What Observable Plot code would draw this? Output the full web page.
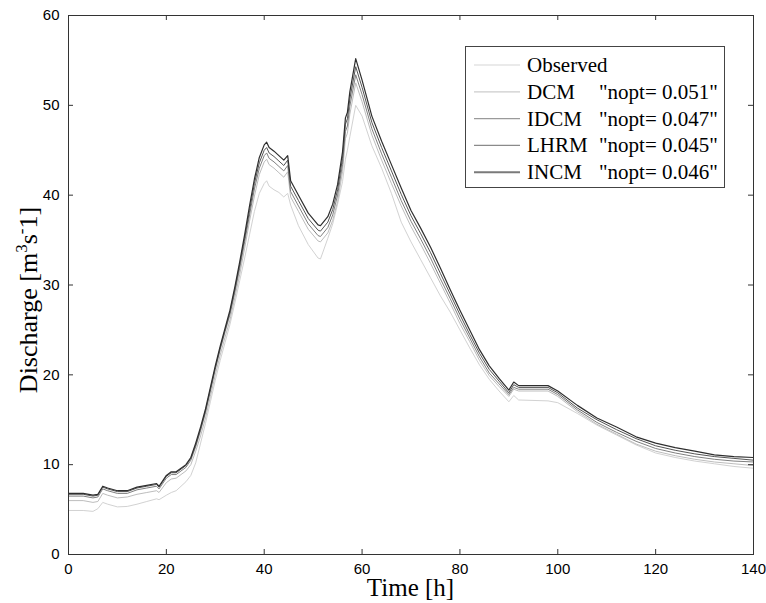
<!DOCTYPE html>
<html><head><meta charset="utf-8">
<script src="https://cdn.jsdelivr.net/npm/d3@7"></script>
<script src="https://cdn.jsdelivr.net/npm/@observablehq/plot@0.6"></script>
<style>
body{margin:0;background:#fff}
#chart{position:relative;width:766px;height:603px}
</style>
</head><body><div id="chart"></div>
<script>
const time = [0,3,5,6,7,8,10,12,14,16,18,18.5,20,21,22,23,24,25,26,27,28,29,30,31,32,33,34,35,36,37,38,39,40,40.5,41,42,43,44,44.8,45.4,47,49,51,51.5,53,54,55,56,56.6,57,57.5,58.7,60,62,64,66,68,70,72,74,76,78,80,82,84,86,88,90,91,92,98,100,104,108,112,116,120,124,128,132,136,140];

const observed = [4.9,4.9,4.8,5.1,5.8,5.6,5.3,5.35,5.6,5.9,
 6.2,6.1,6.6,6.9,7.1,7.6,8.1,8.8,10.2,12.4,
 14.6,17.0,19.4,21.6,23.6,25.6,28.0,30.5,33.0,35.6,
 38.2,40.2,41.3,41.6,41.0,40.6,40.3,39.8,40.2,38.9,
 36.6,34.5,33.0,32.9,35.2,36.8,39.0,41.5,44.0,45.0,
 46.5,50.0,48.8,45.5,43.0,40.2,37.0,34.8,32.8,30.8,
 28.8,27.0,25.0,23.0,21.1,19.5,18.2,17.0,17.7,17.2,
 17.1,16.9,15.7,14.4,13.3,12.2,11.3,10.8,10.4,10.1,
 9.8,9.6];

const dcm = [6.0,6.0,5.8,5.9,6.8,6.6,6.3,6.4,6.7,6.9,
 7.1,6.9,8.0,8.4,8.5,8.9,9.3,10.0,11.5,13.2,
 15.2,17.6,20.0,22.2,24.2,26.1,28.6,31.2,34.1,37.1,
 39.9,42.3,43.7,44.0,43.4,43.0,42.5,42.0,42.6,39.8,
 38.2,36.2,34.9,34.8,35.8,37.2,39.3,42.6,46.3,46.9,
 49.0,52.5,50.4,46.7,43.9,41.3,38.8,36.5,34.5,32.4,
 30.2,28.0,25.7,23.7,21.6,19.9,18.7,17.6,18.4,18.2,
 18.2,17.6,15.9,14.5,13.4,12.3,11.5,11.0,10.6,10.3,
 10.1,9.9];

const idcm = [6.5,6.5,6.3,6.4,7.3,7.1,6.8,6.8,7.2,7.4,
 7.6,7.3,8.5,8.9,8.9,9.3,9.7,10.5,12.0,13.8,
 15.8,18.2,20.6,22.8,24.8,26.7,29.2,31.9,34.8,37.8,
 40.7,43.0,44.4,44.7,44.1,43.7,43.2,42.7,43.3,40.4,
 38.8,36.8,35.5,35.4,36.4,37.8,40.0,43.4,47.1,47.7,
 49.9,53.4,51.2,47.4,44.6,42.0,39.4,37.1,35.1,33.0,
 30.7,28.5,26.2,24.1,22.0,20.2,19.0,17.8,18.6,18.4,
 18.4,17.8,16.1,14.7,13.6,12.6,11.8,11.3,10.9,10.6,
 10.4,10.3];

const lhrm = [6.7,6.7,6.5,6.6,7.5,7.3,7.0,7.0,7.4,7.6,
 7.8,7.5,8.7,9.1,9.1,9.5,9.9,10.7,12.2,14.0,
 16.0,18.4,20.8,23.0,25.0,27.0,29.5,32.3,35.2,38.3,
 41.3,43.6,45.0,45.3,44.7,44.3,43.8,43.3,43.9,41.0,
 39.4,37.4,36.1,36.0,37.0,38.4,40.6,44.1,47.9,48.5,
 50.7,54.3,52.0,48.1,45.3,42.7,40.1,37.7,35.7,33.6,
 31.3,29.0,26.7,24.5,22.4,20.6,19.3,18.0,18.9,18.6,
 18.6,18.0,16.3,15.0,13.9,12.9,12.1,11.6,11.2,10.9,
 10.7,10.5];

const incm = [6.8,6.8,6.6,6.7,7.6,7.4,7.1,7.1,7.5,7.7,
 7.9,7.6,8.8,9.2,9.2,9.6,10.0,10.8,12.4,14.2,
 16.2,18.6,21.0,23.2,25.2,27.2,29.8,32.6,35.6,38.8,
 41.8,44.2,45.6,45.9,45.3,44.9,44.4,43.9,44.4,41.6,
 40.0,38.0,36.7,36.6,37.6,39.0,41.2,44.8,48.6,49.2,
 51.5,55.2,52.8,48.8,46.0,43.4,40.8,38.3,36.3,34.2,
 31.9,29.5,27.2,25.0,22.8,21.0,19.6,18.3,19.2,18.8,
 18.8,18.2,16.6,15.2,14.2,13.1,12.4,11.9,11.5,11.1,
 10.9,10.8];

const seriesNames = ["Observed", "DCM", "IDCM", "LHRM", "INCM"];
const noptLabels = ["", "\"nopt= 0.051\"", "\"nopt= 0.047\"", "\"nopt= 0.045\"", "\"nopt= 0.046\""];
const seriesValues = [observed, dcm, idcm, lhrm, incm];
const seriesColors = ["#d2d2d2", "#bdbdbd", "#808080", "#555555", "#2e2e2e"];
const legendColors = ["#d6d6d6", "#cccccc", "#9a9a9a", "#8a8a8a", "#7a7a7a"];
const seriesWidths = [1, 1, 1, 1, 1.2];
const xTicks = [0, 20, 40, 60, 80, 100, 120, 140];
const yTicks = [0, 10, 20, 30, 40, 50, 60];

const W = 766, H = 603, mL = 68, mR = 13, mT = 15, mB = 49;
const fw = W - mL - mR, fh = H - mT - mB, tk = 5;

const lines = seriesNames.map((name, i) => {
  const rows = time.map((t, j) => ({t, q: seriesValues[i][j], name}));
  return Plot.line(rows, {x: "t", y: "q", stroke: seriesColors[i], strokeWidth: seriesWidths[i]});
});

const plot = Plot.plot({
  width: W, height: H,
  marginLeft: mL, marginRight: mR, marginTop: mT, marginBottom: mB,
  style: {fontFamily: "'Liberation Sans', Arial, sans-serif", fontSize: "15px", color: "#000", background: "#fff"},
  x: {domain: [0, 140]},
  y: {domain: [0, 60]},
  marks: [
    ...lines,
    Plot.ruleX(xTicks, {x: d => d, insetTop: fh - tk, stroke: "#333"}),
    Plot.ruleX(xTicks, {x: d => d, insetBottom: fh - tk, stroke: "#333"}),
    Plot.ruleY(yTicks, {y: d => d, insetRight: fw - tk, stroke: "#333"}),
    Plot.ruleY(yTicks, {y: d => d, insetLeft: fw - tk, stroke: "#333"}),
    Plot.frame({stroke: "#333"}),
    Plot.axisX({ticks: xTicks, tickSize: 0, tickPadding: 9, label: null, fill: "#000"}),
    Plot.axisY({ticks: yTicks, tickSize: 0, tickPadding: 9, label: null, fill: "#000"})
  ]
});

document.getElementById("chart").appendChild(plot);
const svg = d3.select(plot);
const serif = "'Liberation Serif', 'Times New Roman', serif";

// axis titles
svg.append("text")
  .attr("x", mL + fw / 2).attr("y", 596)
  .attr("text-anchor", "middle")
  .style("font-family", serif)
  .style("font-size", "25px").attr("fill", "#000")
  .text("Time [h]");

const yl = svg.append("text")
  .attr("transform", `translate(37,300) rotate(-90)`)
  .attr("text-anchor", "middle")
  .style("font-family", serif)
  .style("font-size", "26px").attr("fill", "#000");
yl.append("tspan").text("Discharge [m");
yl.append("tspan").attr("dy", -10).style("font-size", "17px").text("3");
yl.append("tspan").attr("dy", 10).text("s");
yl.append("tspan").attr("dy", -10).style("font-size", "17px").text("-");
yl.append("tspan").attr("dy", 10).text("1]");

// legend
const lg = svg.append("g");
lg.append("rect").attr("x", 465.5).attr("y", 46.5).attr("width", 259).attr("height", 141)
  .attr("fill", "#fff").attr("stroke", "#444");
seriesNames.forEach((name, i) => {
  const cy = 65 + i * 26.8;
  lg.append("line").attr("x1", 474).attr("x2", 520).attr("y1", cy).attr("y2", cy)
    .attr("stroke", legendColors[i]).attr("stroke-width", i === 4 ? 2 : 1.2);
  lg.append("text").attr("x", 527).attr("y", cy + 7).attr("text-anchor", "start")
    .style("font-family", serif)
    .style("font-size", "21px").attr("fill", "#000").text(name);
  if (noptLabels[i]) {
    lg.append("text").attr("x", 599).attr("y", cy + 7).attr("text-anchor", "start")
      .style("font-family", serif)
      .style("font-size", "21px").attr("fill", "#000").text(noptLabels[i]);
  }
});
</script>
</body></html>
